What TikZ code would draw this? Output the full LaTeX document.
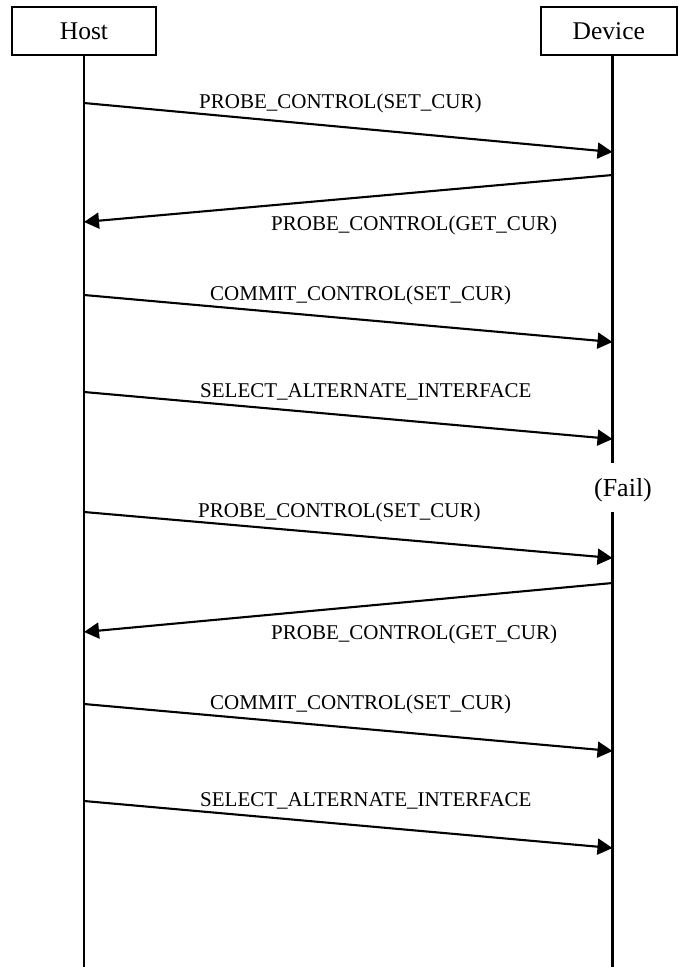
\documentclass[tikz,border=0pt]{standalone}
\usepackage{fontspec}
\setmainfont{Liberation Serif}
\usetikzlibrary{arrows.meta}
\begin{document}
\begin{tikzpicture}[x=1pt,y=-1pt,
  actor/.style={draw, line width=2.1pt, minimum width=144pt, minimum height=48pt, inner sep=0pt, font=\fontsize{25.5}{28}\selectfont},
  life/.style={line width=2.1pt},
  msg/.style={line width=2.1pt, -{Triangle[length=15pt,width=16pt]}},
  lbl/.style={inner sep=0pt, anchor=base west, font=\fontsize{21}{24}\selectfont},
  note/.style={inner sep=0pt, font=\fontsize{26}{28}\selectfont}]
\useasboundingbox (0,0) rectangle (678,967);
% actors
\node[actor] (host) at (84,31) {Host};
\node[actor, minimum width=136pt] (dev) at (608.8,31) {Device};
% lifelines
\coordinate (hbot) at (84,967);
\coordinate (dtop) at (612.5,55);
\coordinate (dfa) at (612.5,463);
\coordinate (dfb) at (612.5,512);
\coordinate (dbot) at (612.5,967);
\draw[life] (host.south) -- (hbot);
\draw[life] (dtop) -- (dfa);
\draw[life] (dfb) -- (dbot);
\node[note] (fail) at (623,490) {(Fail)};
% message end points
\coordinate (h1) at (84,103);  \coordinate (d1) at (612.5,152);
\coordinate (d2) at (612.5,175); \coordinate (h2) at (84,222);
\coordinate (h3) at (84,295);  \coordinate (d3) at (612.5,342);
\coordinate (h4) at (84,392);  \coordinate (d4) at (612.5,439);
\coordinate (h5) at (84,512);  \coordinate (d5) at (612.5,558);
\coordinate (d6) at (612.5,583); \coordinate (h6) at (84,632);
\coordinate (h7) at (84,704);  \coordinate (d7) at (612.5,751);
\coordinate (h8) at (84,801);  \coordinate (d8) at (612.5,848);
\draw[msg] (h1) -- (d1);
\draw[msg] (d2) -- (h2);
\draw[msg] (h3) -- (d3);
\draw[msg] (h4) -- (d4);
\draw[msg] (h5) -- (d5);
\draw[msg] (d6) -- (h6);
\draw[msg] (h7) -- (d7);
\draw[msg] (h8) -- (d8);
% labels
\node[lbl] (l1) at (199,108) {PROBE\_CONTROL(SET\_CUR)};
\node[lbl] (l2) at (271,230.5) {PROBE\_CONTROL(GET\_CUR)};
\node[lbl] (l3) at (210,300) {COMMIT\_CONTROL(SET\_CUR)};
\node[lbl] (l4) at (200,397) {SELECT\_ALTERNATE\_INTERFACE};
\node[lbl] (l5) at (198,517) {PROBE\_CONTROL(SET\_CUR)};
\node[lbl] (l6) at (271,639.5) {PROBE\_CONTROL(GET\_CUR)};
\node[lbl] (l7) at (210,709) {COMMIT\_CONTROL(SET\_CUR)};
\node[lbl] (l8) at (200,806) {SELECT\_ALTERNATE\_INTERFACE};
\end{tikzpicture}
\end{document}
